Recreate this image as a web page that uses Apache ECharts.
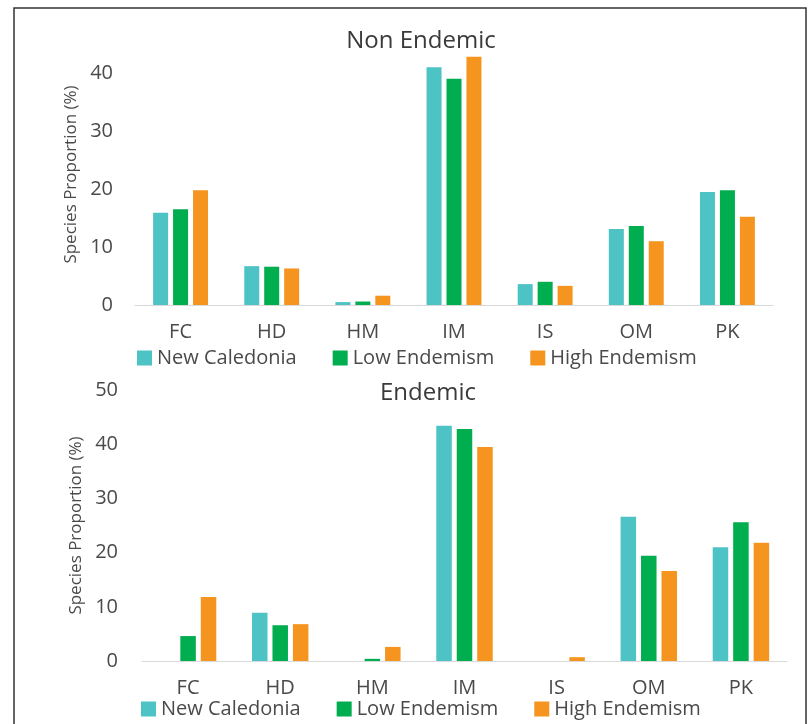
<!DOCTYPE html>
<html>
<head>
<meta charset="utf-8">
<script src="https://cdn.jsdelivr.net/npm/echarts@6/dist/echarts.min.js"></script>
<style>
html,body{margin:0;padding:0;background:#fff;}
#chart{width:810px;height:724px;}
</style>
</head>
<body>
<div id="chart"></div>
<script>
const categories = ['FC', 'HD', 'HM', 'IM', 'IS', 'OM', 'PK'];
const seriesNames = ['New Caledonia', 'Low Endemism', 'High Endemism'];

// Non Endemic panel
const nonEndemicNewCaledonia = [15.9, 6.7, 0.5, 41.0, 3.6, 13.1, 19.5];
const nonEndemicLow = [16.5, 6.6, 0.6, 39.0, 4.0, 13.6, 19.8];
const nonEndemicHigh = [19.8, 6.3, 1.6, 42.8, 3.3, 11.0, 15.2];

// Endemic panel
const endemicNewCaledonia = [0, 8.9, 0, 43.4, 0, 26.6, 21.0];
const endemicLow = [4.6, 6.6, 0.4, 42.8, 0, 19.4, 25.6];
const endemicHigh = [11.8, 6.8, 2.6, 39.5, 0.7, 16.6, 21.8];

const panelTitles = ['Non Endemic', 'Endemic'];
const yAxisName = 'Species Proportion (%)';

const colors = ['#4DC3C5', '#00AD4F', '#F5951F'];
const fontFamily = '"Open Sans", "Noto Sans", sans-serif';
const textColor = '#4a4a4a';

const chart = echarts.init(document.getElementById('chart'));

function barSeries(name, data, idx, color, w, gap) {
  return {
    type: 'bar', name: name, data: data,
    xAxisIndex: idx, yAxisIndex: idx,
    barWidth: w, barGap: gap,
    itemStyle: { color: color },
    emphasis: { disabled: true }
  };
}

function legendCfg(left, top) {
  return {
    left: left, top: top,
    data: seriesNames,
    icon: 'rect', itemWidth: 15, itemHeight: 15, itemGap: 36,
    textStyle: { fontFamily: fontFamily, fontSize: 20, color: textColor }
  };
}

const option = {
  backgroundColor: '#ffffff',
  animation: false,
  color: colors,
  title: [
    { text: panelTitles[0], left: 416, top: 24, textAlign: 'center',
      textStyle: { fontFamily: fontFamily, fontSize: 24, fontWeight: 'normal', color: '#3a3a3a' } },
    { text: panelTitles[1], left: 423, top: 376, textAlign: 'center',
      textStyle: { fontFamily: fontFamily, fontSize: 24, fontWeight: 'normal', color: '#3a3a3a' } }
  ],
  legend: [legendCfg(132, 343), legendCfg(136, 694)],
  graphic: [{
    type: 'rect', silent: true, z: -1,
    shape: { x: 14, y: 8, width: 792, height: 730 },
    style: { fill: 'none', stroke: '#333333', lineWidth: 1.5 }
  }],
  grid: [
    { left: 135, right: 37, top: 44, height: 261 },
    { left: 142, right: 23, top: 390, height: 271 }
  ],
  xAxis: [0, 1].map(i => ({
    type: 'category', gridIndex: i, data: categories,
    axisLine: { lineStyle: { color: '#d9d9d9', width: 1 } },
    axisTick: { show: false },
    axisLabel: { fontFamily: fontFamily, fontSize: 20, color: textColor, margin: 17 }
  })),
  yAxis: [
    { type: 'value', gridIndex: 0, min: 0, max: 45, interval: 10,
      name: yAxisName, nameLocation: 'middle', nameGap: 53,
      nameTextStyle: { fontFamily: fontFamily, fontSize: 17, color: textColor },
      splitLine: { show: false }, axisLine: { show: false }, axisTick: { show: false },
      axisLabel: { fontFamily: fontFamily, fontSize: 20, color: textColor, margin: 22, showMaxLabel: false } },
    { type: 'value', gridIndex: 1, min: 0, max: 50, interval: 10,
      name: yAxisName, nameLocation: 'middle', nameGap: 53,
      nameTextStyle: { fontFamily: fontFamily, fontSize: 17, color: textColor },
      splitLine: { show: false }, axisLine: { show: false }, axisTick: { show: false },
      axisLabel: { fontFamily: fontFamily, fontSize: 20, color: textColor, margin: 24 } }
  ],
  series: [
    barSeries(seriesNames[0], nonEndemicNewCaledonia, 0, colors[0], 15, '33%'),
    barSeries(seriesNames[1], nonEndemicLow, 0, colors[1], 15, '33%'),
    barSeries(seriesNames[2], nonEndemicHigh, 0, colors[2], 15, '33%'),
    barSeries(seriesNames[0], endemicNewCaledonia, 1, colors[0], 15.5, '32%'),
    barSeries(seriesNames[1], endemicLow, 1, colors[1], 15.5, '32%'),
    barSeries(seriesNames[2], endemicHigh, 1, colors[2], 15.5, '32%')
  ]
};
chart.setOption(option);
</script>
</body>
</html>
